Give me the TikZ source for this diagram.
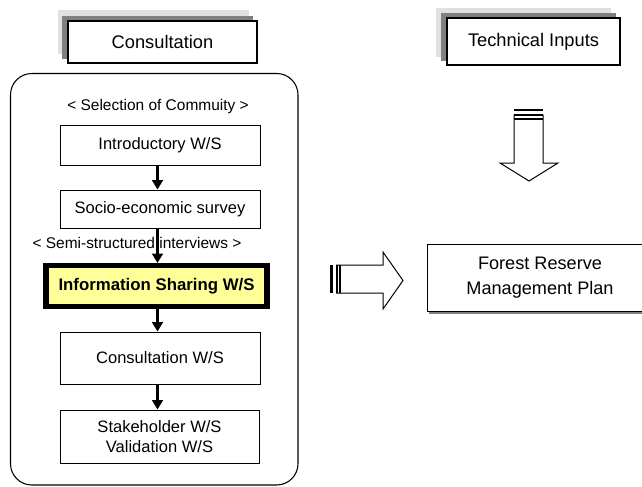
\documentclass[tikz,border=0pt]{standalone}
\usepackage{fontspec}
\setmainfont{Liberation Sans}
\usetikzlibrary{arrows.meta,backgrounds}
\definecolor{shlight}{RGB}{224,224,224}
\definecolor{shdark}{RGB}{128,128,128}
\definecolor{infoyellow}{RGB}{255,255,153}
\tikzset{
  hdrbox/.style={draw,fill=white,line width=0.8pt,inner sep=0pt,font=\fontsize{13.7}{16}\selectfont},
  stepbox/.style={draw,fill=white,line width=0.75pt,inner sep=0pt,minimum width=150pt,align=center,font=\fontsize{12.4}{15}\selectfont},
  lbl/.style={inner sep=0pt,font=\fontsize{11.6}{14}\selectfont},
  flow/.style={line width=1.7pt,-{Triangle[length=7pt,width=8pt]}},
  hollow/.style={draw,line width=0.75pt,fill=white,line join=miter},
}
\begin{document}
\begin{tikzpicture}[x=0.75pt,y=-0.75pt]
\useasboundingbox (0,0) rectangle (642,486);
% headers
\node[hdrbox,minimum width=141.75pt,minimum height=31.5pt] (h1) at (162.5,42) {Consultation};
\node[hdrbox,minimum width=129.75pt,minimum height=35.25pt] (h2) at (533.5,41.5) {Technical Inputs};
\begin{scope}[on background layer]
\fill[shlight] ([shift={(-9,-10)}]h1.north west) rectangle ([shift={(-9,-10)}]h1.south east);
\fill[shdark] ([shift={(-5,-4)}]h1.north west) rectangle ([shift={(-5,-5)}]h1.south east);
\fill[shlight] ([shift={(-10,-9)}]h2.north west) rectangle ([shift={(-10,-9)}]h2.south east);
\fill[shdark] ([shift={(-5,-4)}]h2.north west) rectangle ([shift={(-5,-5)}]h2.south east);
\end{scope}
% panel
\draw[line width=0.8pt,rounded corners=16pt] (10.5,73.5) rectangle (298,485);
\node[lbl] (sel) at (158,106) {<\;Selection of Commuity\;>};
\node[stepbox,minimum height=30pt] (intro) at (160,145) {Introductory W/S};
\node[stepbox,minimum height=28.5pt] (socio) at (160,209) {Socio-economic survey};
\node[lbl] (semi) at (137,243) {<\;Semi-structured interviews\;>};
\node[draw,line width=4.1pt,fill=infoyellow,minimum width=166pt,minimum height=30.4pt,inner sep=0pt,font=\bfseries\fontsize{12.6}{15}\selectfont] (info) at (156.5,286) {Information Sharing W/S};
\node[stepbox,minimum height=39pt] (cons) at (160,358) {Consultation W/S};
\node[stepbox,minimum width=149.25pt,minimum height=39.75pt] (stake) at (159.5,436.5) {Stakeholder W/S\\Validation W/S};
\coordinate (ax) at (157.5,0);
\draw[flow] (intro.south -| ax) -- (socio.north -| ax);
\draw[flow] (socio.south -| ax) -- (info.north -| ax);
\draw[flow] (info.south -| ax) -- (cons.north -| ax);
\draw[flow] (cons.south -| ax) -- (stake.north -| ax);
% forest box
\node[draw,fill=white,line width=0.75pt,minimum width=169.5pt,minimum height=50.25pt,inner sep=0pt,align=center,font=\fontsize{13.6}{18.8}\selectfont] (plan) at (540,277.5) {Forest Reserve\\Management Plan};
\begin{scope}[on background layer]
\fill[shdark] ([shift={(2,2)}]plan.north west) rectangle ([shift={(2,2)}]plan.south east);
\end{scope}
% down hollow arrow
\fill (514,109.3) rectangle (543,110.8);
\draw[hollow] (514,115) -- (514,163) -- (500,163) -- (529,181) -- (558,163) -- (543,163) -- (543,115) -- cycle;
\draw[line width=1.5pt] (514,115) -- (543,115);
\draw[line width=0.9pt] (514,119) -- (543,119);
% right hollow arrow
\fill (330,265) rectangle (333,293);
\draw[hollow] (336.5,265) -- (383,265) -- (383,252) -- (403,280.5) -- (383,309) -- (383,293) -- (336.5,293) -- cycle;
\draw[line width=1.5pt] (336.5,265) -- (336.5,293);
\draw[line width=0.9pt] (340,265) -- (340,293);
\end{tikzpicture}
\end{document}
